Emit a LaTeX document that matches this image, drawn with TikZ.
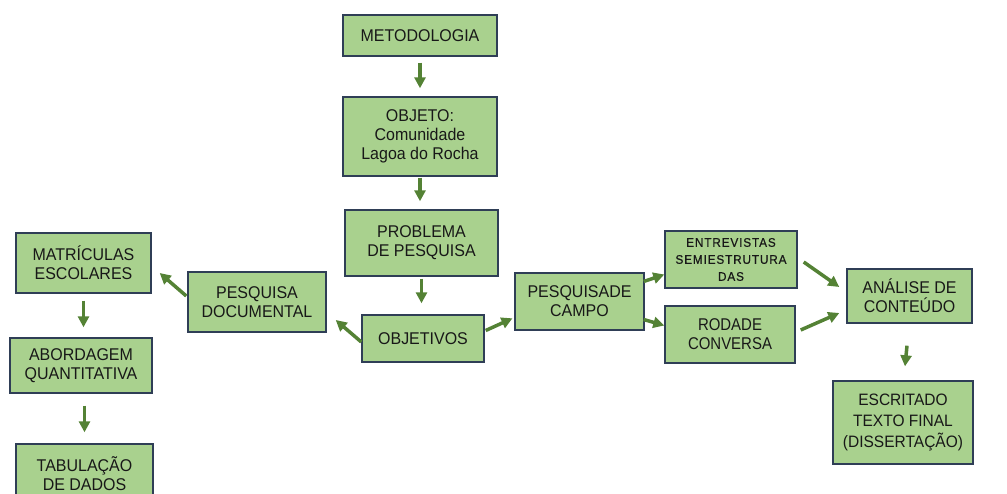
\documentclass[tikz,border=0pt]{standalone}
\usepackage{fontspec}
\setmainfont{Liberation Sans}[FakeStretch=0.94]
\usetikzlibrary{arrows.meta,calc}

\definecolor{boxfill}{RGB}{169,209,142}
\definecolor{boxline}{RGB}{47,62,86}
\definecolor{arrowgreen}{RGB}{84,130,53}
\definecolor{boxtext}{RGB}{24,24,24}

\begin{document}
\begin{tikzpicture}[x=1pt,y=-1pt]

\tikzset{block/.style = {shape=rectangle,draw=boxline,line width=1.4pt,fill=boxfill,text=boxtext,inner sep=0pt,align=center,font=\fontsize{17}{19}\selectfont}}
\tikzset{link/.style = {-{Triangle[length=11pt,width=11pt]},line width=3.5pt,draw=arrowgreen}}

\useasboundingbox (0,0) rectangle (1007,494);

\node[block,minimum width=154,minimum height=41] (met) at (420,35.5) {METODOLOGIA};
\node[block,minimum width=154,minimum height=79] (obj) at (420,136.5) {OBJETO:\\Comunidade\\Lagoa do Rocha};
\node[block,minimum width=153,minimum height=66] (prob) at (421.5,243) {PROBLEMA\\DE PESQUISA};
\node[block,minimum width=122,minimum height=47] (objv) at (423,338.5) {OBJETIVOS};

\node[block,minimum width=138,minimum height=60] (pdoc) at (257,302) {PESQUISA\\DOCUMENTAL};
\node[block,minimum width=135,minimum height=60] (matr) at (83.5,263) {MATRÍCULAS\\ESCOLARES};
\node[block,minimum width=142,minimum height=55] (abord) at (81,365.5) {ABORDAGEM\\QUANTITATIVA};
\node[block,minimum width=137,minimum height=60] (tab) at (84.5,474) {TABULAÇÃO\\DE DADOS};

\node[block,minimum width=129,minimum height=57] (campo) at (579.5,301.5) {PESQUISADE\\CAMPO};
\node[block,minimum width=132,minimum height=57,font=\fontsize{12.5}{17}\selectfont\addfontfeature{LetterSpace=7,FakeBold=0.6}] (entrev) at (731,259.5) {ENTREVISTAS\\SEMIESTRUTURA\\DAS};
\node[block,minimum width=130,minimum height=57,font=\fontsize{17}{19}\selectfont\addfontfeature{FakeStretch=0.88}] (roda) at (730,334.5) {RODADE\\CONVERSA};
\node[block,minimum width=125,minimum height=54] (anal) at (909.5,296) {ANÁLISE DE\\CONTEÚDO};
\node[block,minimum width=140,minimum height=83,font=\fontsize{16.5}{21}\selectfont] (escr) at (903,422.5) {ESCRITADO\\TEXTO FINAL\\(DISSERTAÇÃO)};

\draw[link, shorten <=6, shorten >=8] (met) -- (obj);
\draw[link, shorten <=1, shorten >=8] (obj.south) -- (obj.south |- prob.north);
\draw[link, shorten <=2, shorten >=11] (prob.south) -- (prob.south |- objv.north);
\draw[link] ($(objv.west)+(0,3.5)$) -- ($(pdoc.east)+(9,18)$);
\draw[link, shorten >=2] ($(objv.east)+(1,-8)$) -- ($(campo.west)+(0,16)$);
\draw[link] ($(pdoc.west)+(-1,-6)$) -- ($(matr.east)+(8,10)$);
\draw[link, shorten <=7, shorten >=10] (matr.south) -- (matr.south |- abord.north);
\draw[link, shorten <=12, shorten >=11] (tab.north |- abord.south) -- (tab.north);
\draw[link] ($(campo.east)+(-1,-20)$) -- ($(entrev.west)+(0,15)$);
\draw[link] ($(campo.east)+(-1,18)$) -- ($(roda.west)+(0,-9)$);
\draw[link] ($(entrev.east)+(6,2.5)$) -- ($(anal.west)+(-7,-9)$);
\draw[link] ($(roda.east)+(5,-4.5)$) -- ($(anal.west)+(-7,17)$);
\draw[link] ($(anal.south)+(-2.5,22)$) -- ($(escr.north)+(2,-14)$);

\end{tikzpicture}
\end{document}
